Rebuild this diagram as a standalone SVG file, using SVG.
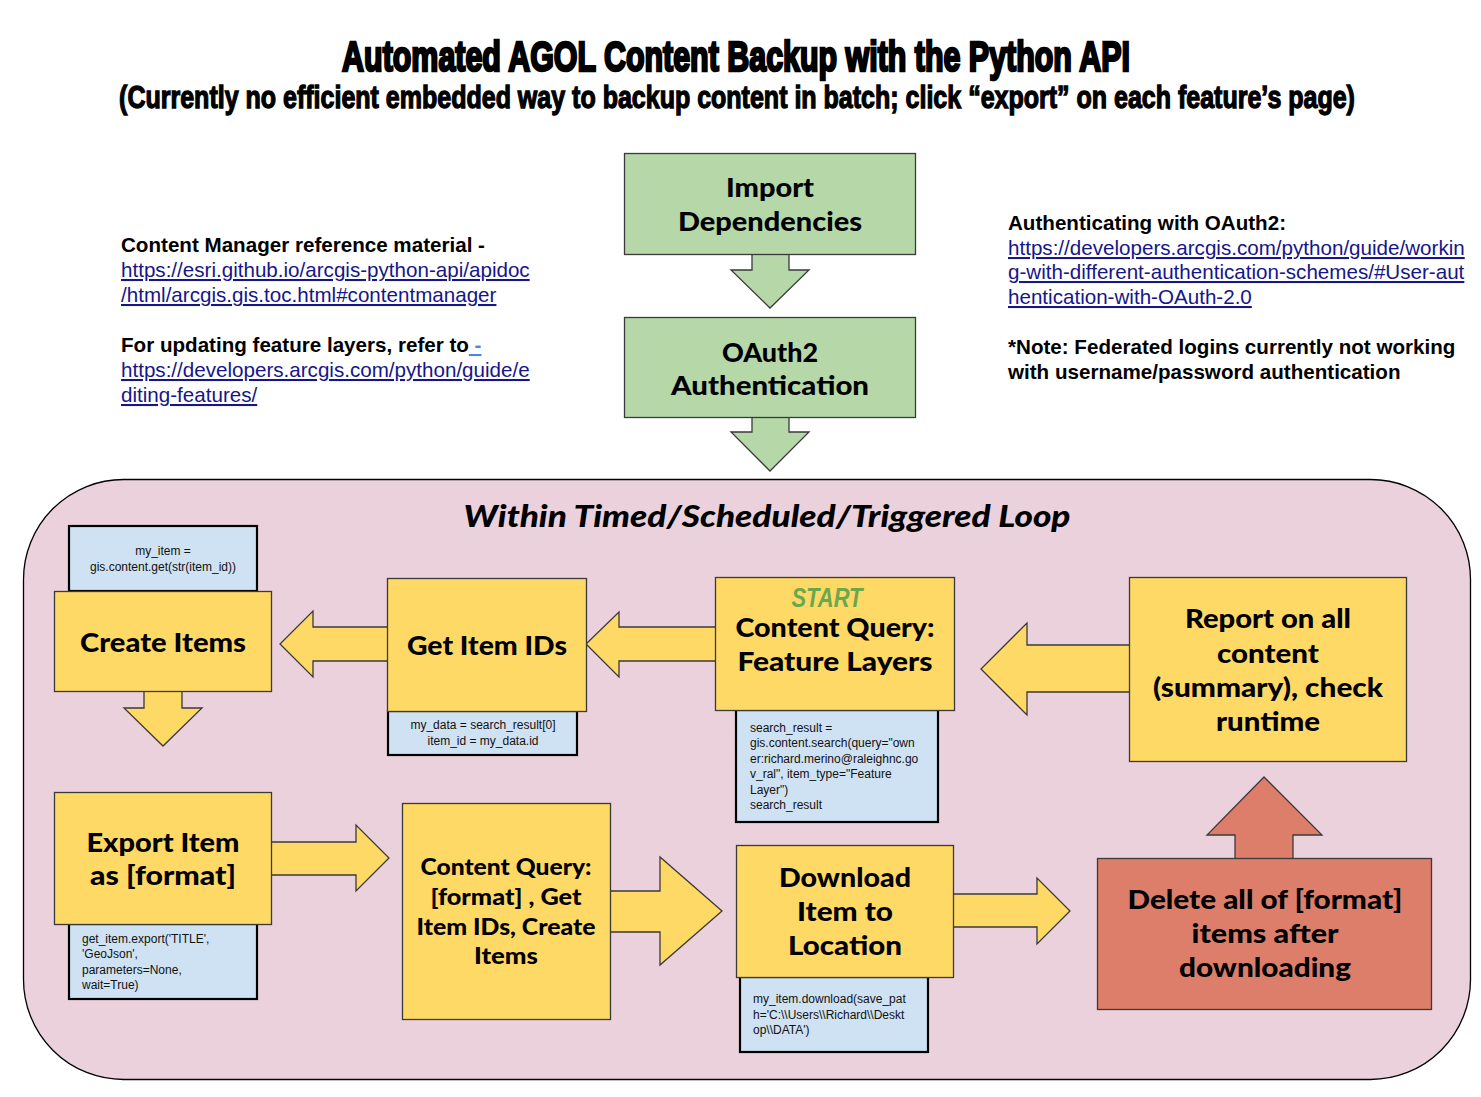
<svg xmlns="http://www.w3.org/2000/svg" width="1481" height="1097" viewBox="0 0 1481 1097">
<style>
.ttl{font-family:"Liberation Sans",Arial,sans-serif;font-weight:bold;fill:#000;stroke:#000;}
.lbl{font-family:Lato,"Open Sans",sans-serif;font-weight:900;fill:#000;text-anchor:middle;}
.note{font-family:"Liberation Sans",Arial,sans-serif;font-size:20.6px;}
.nb{font-weight:bold;fill:#000;}
.lnk{fill:#16168a;text-decoration:underline;}
.code{font-family:"Liberation Sans",Arial,sans-serif;font-size:12px;fill:#111;}
.yel{fill:#ffd966;stroke:#3a3a3a;stroke-width:1.3;}
.grn{fill:#b6d7a8;stroke:#3a3a3a;stroke-width:1.3;}
.red{fill:#dd7e6b;stroke:#3a3a3a;stroke-width:1.3;}
.blu{fill:#cfe2f3;stroke:#000;stroke-width:2.2;}
</style>
<rect width="1481" height="1097" fill="#fff"/>
<g id="title">
<text class="ttl" transform="translate(736,71) scale(0.65,1)" x="0" y="0" font-size="42" stroke-width="2.6" text-anchor="middle" textLength="1212" lengthAdjust="spacingAndGlyphs">Automated AGOL Content Backup with the Python API</text>
<text class="ttl" transform="translate(737,108) scale(0.73,1)" x="0" y="0" font-size="32" stroke-width="1.3" text-anchor="middle" textLength="1693" lengthAdjust="spacingAndGlyphs">(Currently no efficient embedded way to backup content in batch; click “export” on each feature’s page)</text>
</g>
<g id="notes-left" class="note">
<text class="nb" x="121" y="252">Content Manager reference material -</text>
<text class="lnk" x="121" y="277">https://esri.github.io/arcgis-python-api/apidoc</text>
<text class="lnk" x="121" y="302">/html/arcgis.gis.toc.html#contentmanager</text>
<text class="nb" x="121" y="352">For updating feature layers, refer to<tspan fill="#4a86e8" text-decoration="underline"> -</tspan></text>
<text class="lnk" x="121" y="377">https://developers.arcgis.com/python/guide/e</text>
<text class="lnk" x="121" y="402">diting-features/</text>
</g>
<g id="notes-right" class="note">
<text class="nb" x="1008" y="230">Authenticating with OAuth2:</text>
<text class="lnk" x="1008" y="255">https://developers.arcgis.com/python/guide/workin</text>
<text class="lnk" x="1008" y="279">g-with-different-authentication-schemes/#User-aut</text>
<text class="lnk" x="1008" y="304">hentication-with-OAuth-2.0</text>
<text class="nb" x="1008" y="354">*Note: Federated logins currently not working</text>
<text class="nb" x="1008" y="379">with username/password authentication</text>
</g>
<g id="loop">
<rect x="23.5" y="479.5" width="1447" height="600" rx="100" ry="100" fill="#ead1dc" stroke="#000" stroke-width="1.3"/>
<text x="767" y="527" font-family="Lato,'Open Sans',sans-serif" font-weight="900" font-style="italic" font-size="30" text-anchor="middle" textLength="607" lengthAdjust="spacingAndGlyphs">Within Timed/Scheduled/Triggered Loop</text>
</g>
<g id="connectors">
<polygon class="grn" points="752,253 752,270 731,270 770,308 809,270 789,270 789,253"/>
<polygon class="grn" points="752,416 752,432 731,432 770,471 809,432 789,432 789,416"/>
<polygon class="yel" points="716,627 619,627 619,612 586,644 619,677 619,661 716,661"/>
<polygon class="yel" points="389,627 313,627 313,611 280,644 313,677 313,661 389,661"/>
<polygon class="yel" points="144,690 144,708 124,708 163,746 202,708 182,708 182,690"/>
<polygon class="yel" points="270,842 356,842 356,825 389,858 356,891 356,875 270,875"/>
<polygon class="yel" points="609,891 660,891 660,857 722,911 660,965 660,932 609,932"/>
<polygon class="yel" points="952,894 1037,894 1037,878 1070,911 1037,944 1037,927 952,927"/>
<polygon class="red" points="1235,859 1235,835 1207,835 1264,777 1322,835 1293,835 1293,859"/>
<polygon class="yel" points="1131,645 1027,645 1027,623 981,669 1027,715 1027,692 1131,692"/>
</g>
<g id="import-dependencies">
<rect class="grn" x="624.5" y="153.5" width="291" height="101"/>
<text class="lbl" x="770" y="197" font-size="27" textLength="88" lengthAdjust="spacingAndGlyphs">Import</text>
<text class="lbl" x="770" y="231" font-size="27" textLength="184" lengthAdjust="spacingAndGlyphs">Dependencies</text>
</g>
<g id="oauth2-authentication">
<rect class="grn" x="624.5" y="317.5" width="291" height="100"/>
<text class="lbl" x="770" y="362" font-size="27" textLength="96" lengthAdjust="spacingAndGlyphs">OAuth2</text>
<text class="lbl" x="770" y="395" font-size="27" textLength="198" lengthAdjust="spacingAndGlyphs">Authentication</text>
</g>
<g id="create-items">
<rect class="blu" x="69" y="526" width="188" height="65"/>
<text class="code" x="163" y="555" text-anchor="middle">my_item =</text>
<text class="code" x="163" y="571" text-anchor="middle">gis.content.get(str(item_id))</text>
<rect class="yel" x="54.5" y="591.5" width="217" height="100"/>
<text class="lbl" x="163" y="652" font-size="27" textLength="166" lengthAdjust="spacingAndGlyphs">Create Items</text>
</g>
<g id="get-item-ids">
<rect class="blu" x="388" y="711" width="189" height="44"/>
<text class="code" x="483" y="729" text-anchor="middle">my_data = search_result[0]</text>
<text class="code" x="483" y="745" text-anchor="middle">item_id = my_data.id</text>
<rect class="yel" x="387.5" y="578.5" width="199" height="133"/>
<text class="lbl" x="487" y="655" font-size="27" textLength="160" lengthAdjust="spacingAndGlyphs">Get Item IDs</text>
</g>
<g id="content-query-feature-layers">
<rect class="blu" x="736" y="710" width="202" height="112"/>
<text class="code" x="750" y="732">search_result =</text>
<text class="code" x="750" y="747">gis.content.search(query="own</text>
<text class="code" x="750" y="763">er:richard.merino@raleighnc.go</text>
<text class="code" x="750" y="778">v_ral", item_type="Feature</text>
<text class="code" x="750" y="794">Layer")</text>
<text class="code" x="750" y="809">search_result</text>
<rect class="yel" x="715.5" y="577.5" width="239" height="133"/>
<text x="827" y="607" font-family="'Liberation Sans',Arial,sans-serif" font-weight="bold" font-style="italic" font-size="27" fill="#6aa84f" text-anchor="middle" textLength="71" lengthAdjust="spacingAndGlyphs">START</text>
<text class="lbl" x="835" y="637" font-size="27" textLength="199" lengthAdjust="spacingAndGlyphs">Content Query:</text>
<text class="lbl" x="835" y="671" font-size="27" textLength="195" lengthAdjust="spacingAndGlyphs">Feature Layers</text>
</g>
<g id="report">
<rect class="yel" x="1129.5" y="577.5" width="277" height="184"/>
<text class="lbl" x="1268" y="628" font-size="27" textLength="166" lengthAdjust="spacingAndGlyphs">Report on all</text>
<text class="lbl" x="1268" y="663" font-size="27" textLength="102" lengthAdjust="spacingAndGlyphs">content</text>
<text class="lbl" x="1268" y="697" font-size="27" textLength="230" lengthAdjust="spacingAndGlyphs">(summary), check</text>
<text class="lbl" x="1268" y="731" font-size="27" textLength="104" lengthAdjust="spacingAndGlyphs">runtime</text>
</g>
<g id="export-item">
<rect class="blu" x="69" y="924" width="188" height="75"/>
<text class="code" x="82" y="943">get_item.export('TITLE',</text>
<text class="code" x="82" y="958">'GeoJson',</text>
<text class="code" x="82" y="974">parameters=None,</text>
<text class="code" x="82" y="989">wait=True)</text>
<rect class="yel" x="54.5" y="792.5" width="217" height="132"/>
<text class="lbl" x="163" y="852" font-size="27" textLength="153" lengthAdjust="spacingAndGlyphs">Export Item</text>
<text class="lbl" x="163" y="885" font-size="27" textLength="146" lengthAdjust="spacingAndGlyphs">as [format]</text>
</g>
<g id="content-query-format">
<rect class="yel" x="402.5" y="803.5" width="208" height="216"/>
<text class="lbl" x="506" y="875" font-size="22" textLength="171" lengthAdjust="spacingAndGlyphs">Content Query:</text>
<text class="lbl" x="506" y="905" font-size="22" textLength="151" lengthAdjust="spacingAndGlyphs">[format] , Get</text>
<text class="lbl" x="506" y="935" font-size="22" textLength="179" lengthAdjust="spacingAndGlyphs">Item IDs, Create</text>
<text class="lbl" x="506" y="964" font-size="22" textLength="64" lengthAdjust="spacingAndGlyphs">Items</text>
</g>
<g id="download-item">
<rect class="blu" x="740" y="977" width="188" height="75"/>
<text class="code" x="753" y="1003">my_item.download(save_pat</text>
<text class="code" x="753" y="1019">h='C:\\Users\\Richard\\Deskt</text>
<text class="code" x="753" y="1034">op\\DATA')</text>
<rect class="yel" x="736.5" y="845.5" width="217" height="132"/>
<text class="lbl" x="845" y="887" font-size="27" textLength="132" lengthAdjust="spacingAndGlyphs">Download</text>
<text class="lbl" x="845" y="921" font-size="27" textLength="96" lengthAdjust="spacingAndGlyphs">Item to</text>
<text class="lbl" x="845" y="955" font-size="27" textLength="114" lengthAdjust="spacingAndGlyphs">Location</text>
</g>
<g id="delete-format-items">
<rect class="red" x="1097.5" y="858.5" width="334" height="151"/>
<text class="lbl" x="1265" y="909" font-size="27" textLength="275" lengthAdjust="spacingAndGlyphs">Delete all of [format]</text>
<text class="lbl" x="1265" y="943" font-size="27" textLength="147" lengthAdjust="spacingAndGlyphs">items after</text>
<text class="lbl" x="1265" y="977" font-size="27" textLength="172" lengthAdjust="spacingAndGlyphs">downloading</text>
</g>
</svg>
